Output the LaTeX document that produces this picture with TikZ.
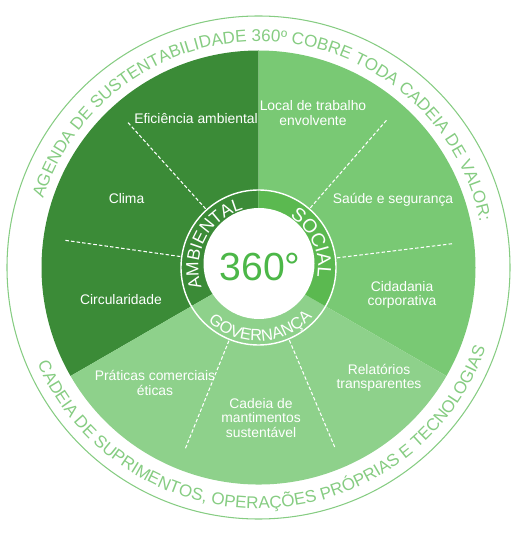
\documentclass[tikz,border=0pt]{standalone}
\usepackage{fontspec}
\setmainfont{Liberation Sans}
\usetikzlibrary{decorations.text}
\definecolor{ambgreen}{HTML}{3B8B37}
\definecolor{socgreen}{HTML}{79C974}
\definecolor{govgreen}{HTML}{8ED18B}
\definecolor{ringgreen}{HTML}{5BB950}
\definecolor{rimgreen}{HTML}{86CC82}
\definecolor{biggreen}{HTML}{4CB748}
\tikzstyle{topic}=[text=white, align=center, inner sep=0pt, font=\fontsize{7.9}{8.2}\selectfont]
\tikzstyle{divider}=[draw=white, line width=0.6pt, dash pattern=on 2pt off 1.2pt]
\tikzstyle{curved}=[decorate, decoration={text along path, text align=center}]
\newcommand{\rimfont}{\fontsize{9.7}{9.7}\selectfont\color{rimgreen}}

\begin{document}
\begin{tikzpicture}[x=0.02cm, y=0.02cm]
	\useasboundingbox (0,0) rectangle (521,541);
	\coordinate (c) at (258.5,273.5);
	\coordinate (hub) at (259,277.5);

	% First we draw the rim and the three slices
	\draw[rimgreen, line width=0.6pt] (c) circle[radius=251.5];
	\fill[ambgreen] (c) -- ([shift={(90:217)}]c) arc[start angle=90, end angle=210, radius=217] -- cycle;
	\fill[socgreen] (c) -- ([shift={(90:217)}]c) arc[start angle=90, end angle=-30, radius=217] -- cycle;
	\fill[govgreen] (c) -- ([shift={(210:217)}]c) arc[start angle=210, end angle=330, radius=217] -- cycle;

	% Then the ring round the centre
	\fill[ringgreen] (c) -- ([shift={(90:77.5)}]c) arc[start angle=90, end angle=-30, radius=77.5] -- cycle;
	\fill[white] (hub) circle[radius=55.5];
	\draw[white, line width=0.8pt] (c) circle[radius=77.5];
	\node[font=\fontsize{22.3}{22.3}\selectfont, text=biggreen, inner sep=0pt] (deg) at (260,273.5) {360°};

	% Dashed lines between the topics
	\foreach \ang in {132,172,49,7,248,293}
	\draw[divider] ([shift={(\ang:79)}]c) -- ([shift={(\ang:196)}]c);

	% Topics of each slice
	\foreach \pos/\name/\txt in {{(196,422)/efic/{Eficiência ambiental}}, {(126.5,342)/clima/Clima},
	                             {(121,241)/circ/Circularidade}, {(313,428)/local/{Local de trabalho\\envolvente}},
	                             {(393,341)/saude/{Saúde e segurança}}, {(402,246)/cidad/{Cidadania\\corporativa}},
	                             {(379,163)/relat/{Relatórios\\transparentes}}, {(155,158)/prat/{Práticas comerciais\\éticas}},
	                             {(261,123)/cadeia/{Cadeia de\\mantimentos\\sustentável}}}
	\node[topic] (\name) at \pos {\txt};

	% Words along the ring
	\path[curved, decoration={text={|\fontsize{10}{10}\selectfont\color{white}|AMBIENTAL}}]
		([shift={(215:60)}]c) arc[start angle=215, end angle=89, radius=60];
	\path[curved, decoration={text={|\fontsize{10.9}{10.9}\selectfont\color{white}|SOCIAL}}]
		([shift={(80:59.5)}]c) arc[start angle=80, end angle=-31, radius=59.5];
	\path[curved, decoration={text={|\fontsize{9.3}{9.3}\selectfont\color{white}|GOVERNANÇA}}]
		([shift={(200:73.5)}]c) arc[start angle=200, end angle=344, radius=73.5];

	% Words along the rim
	\path[curved, decoration={text={|\rimfont|AGENDA DE SUSTENTABILIDADE 360º COBRE TODA CADEIA DE VALOR:}}]
		([shift={(177:226)}]c) arc[start angle=177, end angle=-3, radius=226];
	\path[curved, decoration={text={|\rimfont|CADEIA DE SUPRIMENTOS, OPERAÇÕES PRÓPRIAS E TECNOLOGIAS}}]
		([shift={(182:241)}]c) arc[start angle=182, end angle=362, radius=241];
\end{tikzpicture}
\end{document}
